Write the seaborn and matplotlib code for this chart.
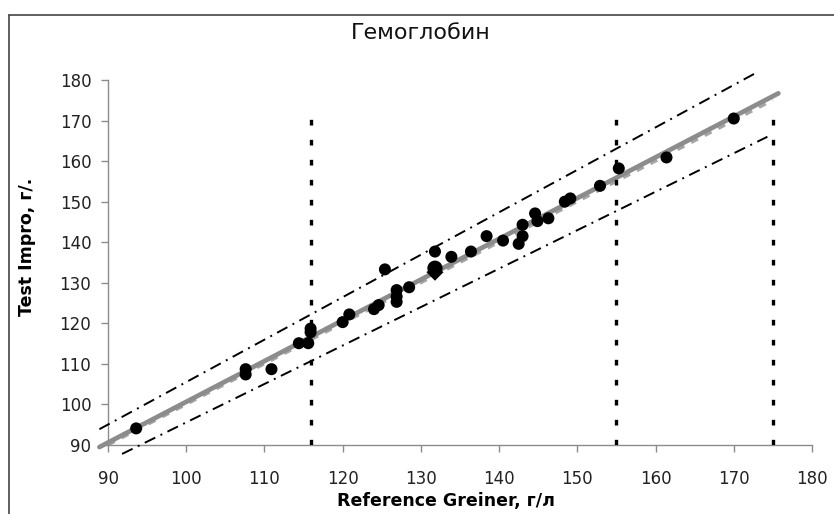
import matplotlib
matplotlib.use("Agg")
import matplotlib.pyplot as plt
import seaborn as sns
import pandas as pd
from matplotlib.lines import Line2D

ref_x = [93.6, 107.6, 107.6, 110.9, 114.4, 115.6, 115.9, 115.9, 120.0, 120.85,
         124.0, 124.6, 125.4, 126.9, 126.9, 126.9, 128.5, 131.8, 133.9, 136.4,
         138.4, 140.5, 142.5, 143.0, 143.0, 144.6, 144.9, 146.3, 148.4, 149.1,
         152.9, 155.3, 161.4, 170.0]
test_y = [94.1, 108.7, 107.4, 108.7, 115.1, 115.1, 118.7, 117.8, 120.3, 122.2,
          123.5, 124.5, 133.3, 128.2, 126.6, 125.3, 128.9, 137.7, 136.4, 137.7,
          141.5, 140.4, 139.6, 141.5, 144.3, 147.1, 145.2, 145.9, 150.0, 150.8,
          153.9, 158.2, 160.9, 170.5]

# mean point
mean_x = [131.8]
mean_y = [133.6]
mean_diamond_y = [132.6]

# lines: endpoints
regr_x = [88.9, 175.7]
regr_y = [89.5, 176.7]
ident_x = [90.0, 175.0]
ident_y = [90.0, 175.0]
upper_x = [88.9, 172.7]
upper_y = [93.9, 181.6]
lower_x = [91.8, 174.3]
lower_y = [87.8, 166.0]

# vertical reference limits
limits = [116, 155, 175]
limit_top = 173.1

title = "Гемоглобин"
xlabel = "Reference Greiner, г/л"
ylabel = "Test Impro, г/."
ticks = [90, 100, 110, 120, 130, 140, 150, 160, 170, 180]

sns.set_style("white")
plt.rcParams['font.family'] = ['DejaVu Sans']

fig = plt.figure(figsize=(8.34, 5.14), dpi=100)
ax = fig.add_axes([0.1295, 0.1342, 0.8441, 0.7102])

data = pd.DataFrame({'ref': ref_x, 'test': test_y})

# grey identity (dashed) and regression (solid)
ax.plot(ident_x, ident_y, color='#a6a6a6', lw=2.2, linestyle=(0, (2.5, 2.5)),
        zorder=2, clip_on=False)
ax.plot(regr_x, regr_y, color='#8c8c8c', lw=3.4, solid_capstyle='round',
        zorder=3, clip_on=False)

# dash-dot limits
dd = (0, (6, 3, 1, 3))
ax.plot(upper_x, upper_y, color='black', lw=1.4, linestyle=dd, zorder=3, clip_on=False)
ax.plot(lower_x, lower_y, color='black', lw=1.4, linestyle=dd, zorder=3, clip_on=False)

# vertical dotted lines
for xv in limits:
    ax.plot([xv, xv], [90, limit_top], color='black', lw=2.4,
            linestyle=(0, (1.7, 4.3)), zorder=3)

sns.scatterplot(data=data, x='ref', y='test', color='black', s=75,
                edgecolor='none', ax=ax, zorder=5, clip_on=False)
sns.scatterplot(x=mean_x, y=mean_y, color='black', s=120, edgecolor='none',
                ax=ax, zorder=5)
sns.scatterplot(x=mean_x, y=mean_diamond_y, color='black', marker='D', s=75,
                edgecolor='none', ax=ax, zorder=5)

ax.set_xlim(90, 180)
ax.set_ylim(90, 180)
ax.set_xticks(ticks)
ax.set_yticks(ticks)
ax.set_xlabel("")
ax.set_ylabel("")

for side in ['top', 'right']:
    ax.spines[side].set_visible(False)
for side in ['left', 'bottom']:
    ax.spines[side].set_color('#8c8c8c')
    ax.spines[side].set_linewidth(1.0)

ax.tick_params(axis='x', direction='out', length=5, width=1, color='#8c8c8c',
               labelsize=12, labelcolor='#222222', pad=13, bottom=True)
ax.tick_params(axis='y', direction='out', length=5, width=1, color='#8c8c8c',
               labelsize=12, labelcolor='#222222', pad=7, left=True)

# title and axis labels
fig.text(0.504, 0.936, title, ha='center', va='center', fontsize=16, color='#111111')
fig.text(0.535, 0.025, xlabel, ha='center', va='center', fontsize=12.5,
         fontweight='bold', color='black')
fig.text(0.032, 0.52, ylabel, ha='center', va='center', fontsize=12.5,
         fontweight='bold', color='black', rotation=90)

# chart area frame (top and left edges visible)
fig.add_artist(Line2D([9 / 834, 1.0], [1 - 15 / 514, 1 - 15 / 514],
                      transform=fig.transFigure, color='#444444', lw=1.2))
fig.add_artist(Line2D([9 / 834, 9 / 834], [0.0, 1 - 15 / 514],
                      transform=fig.transFigure, color='#444444', lw=1.2))

plt.savefig("out.png", dpi=100)
